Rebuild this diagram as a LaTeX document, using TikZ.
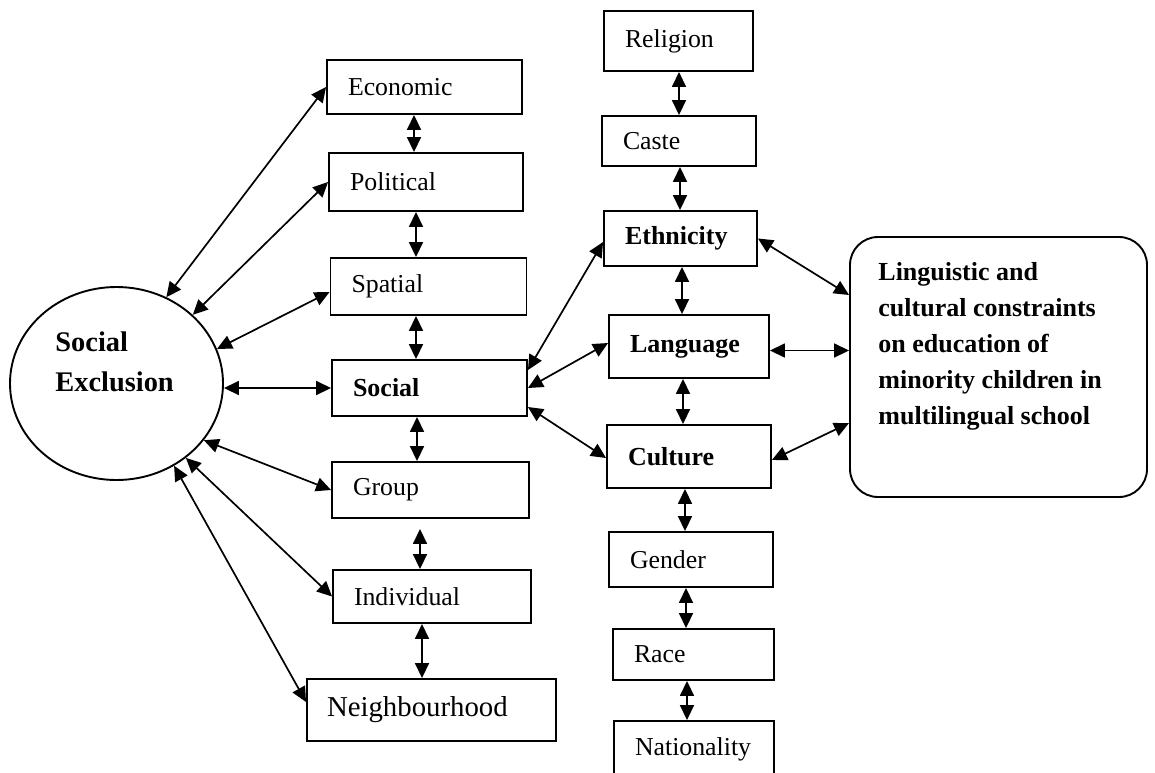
\documentclass[tikz,border=0pt]{standalone}
\usepackage{fontspec}
\setmainfont{Liberation Serif}
\usetikzlibrary{arrows.meta,shapes.geometric}
\tikzset{
  box/.style={draw, line width=0.95pt, inner xsep=10.5pt, inner ysep=0pt, align=left,
    font=\fontsize{12.9}{15}\selectfont},
  bbox/.style={box, font=\fontsize{13}{15}\selectfont\bfseries},
  conn/.style={line width=0.85pt, {Triangle[length=7.5pt,width=7pt]}-{Triangle[length=7.5pt,width=7pt]}},
}
\begin{document}
\begin{tikzpicture}[x=0.5pt,y=-0.5pt]
\useasboundingbox (0,0) rectangle (1155,772);
% Social Exclusion
\node[draw, ellipse, line width=0.95pt, minimum width=106.5pt, minimum height=96.5pt] (se) at (116.5,383.5) {};
\node[anchor=west, align=left, inner sep=0pt, font=\fontsize{14.2}{20}\selectfont\bfseries] (setext) at (55,362) {Social\\Exclusion};
% left column
\node[box, text width=76.5pt, minimum height=27pt] (eco) at (424.5,87) {Economic};
\node[box, text width=76pt, minimum height=29pt] (pol) at (426,182) {Political};
\node[box, text width=77pt, minimum height=28.5pt] (spa) at (428.5,286.5) {Spatial};
\node[bbox, text width=76.5pt, minimum height=28pt] (soc) at (429.5,388) {Social};
\node[box, text width=77.5pt, minimum height=28pt] (grp) at (430.5,490) {Group};
\node[box, text width=78pt, minimum height=26.5pt] (ind) at (432,596.5) {Individual};
\node[box, inner xsep=10pt, text width=104.5pt, minimum height=31pt, font=\fontsize{14.4}{17}\selectfont] (nei) at (431.5,710) {Neighbourhood};
% middle column
\node[box, text width=53.5pt, minimum height=30pt] (rel) at (678.5,41) {Religion};
\node[box, text width=56pt, minimum height=25pt] (cas) at (679,141) {Caste};
\node[bbox, text width=55.5pt, minimum height=27.5pt] (eth) at (680.5,238.5) {Ethnicity};
\node[bbox, text width=59pt, minimum height=31.5pt] (lan) at (689,346.5) {Language};
\node[bbox, text width=61pt, minimum height=31.5pt] (cul) at (689,456.5) {Culture};
\node[box, text width=61pt, minimum height=27.5pt] (gen) at (691,559.5) {Gender};
\node[box, text width=59.5pt, minimum height=25.5pt] (rac) at (693.5,654.5) {Race};
\node[box, text width=59pt, minimum height=28pt] (nat) at (694,749) {Nationality};
% right box
\node[draw, line width=0.95pt, rounded corners=14pt, minimum width=148.5pt, minimum height=130pt] (lc) at (998.5,367) {};
\node[anchor=west, align=left, inner sep=0pt, font=\fontsize{13}{18}\selectfont\bfseries] (lctext) at (878,346.5)
  {Linguistic and\\cultural constraints\\on education of\\minority children in\\multilingual school};
% circle connectors
\draw[conn] (se.60) -- (eco.west);
\draw[conn] (se.42) -- (pol.west);
\draw[conn] (se.19) -- ([yshift=-2.75pt]spa.west);
\draw[conn] (se.east |- soc.west) -- (soc.west);
\draw[conn] (se.-33) -- (grp.west);
\draw[conn] (se.-47) -- (ind.west);
\draw[conn] (se.-55) -- ([yshift=4pt]nei.west);
% left vertical
\draw[conn] (414,0 |- eco.south) -- (414,0 |- pol.north);
\draw[conn] (416,0 |- pol.south) -- (416,0 |- spa.north);
\draw[conn] (416,0 |- spa.south) -- (416,0 |- soc.north);
\draw[conn] (417,0 |- soc.south) -- (417,0 |- grp.north);
\draw[conn] (420,0 |- grp.south) ++(0,10) -- (420,0 |- ind.north);
\draw[conn] (422,0 |- ind.south) -- (422,0 |- nei.north);
% middle vertical
\draw[conn] (679,0 |- rel.south) -- (679,0 |- cas.north);
\draw[conn] (680,0 |- cas.south) -- (680,0 |- eth.north);
\draw[conn] (682,0 |- eth.south) -- (682,0 |- lan.north);
\draw[conn] (683,0 |- lan.south) -- (683,0 |- cul.north);
\draw[conn] (685,0 |- cul.south) -- (685,0 |- gen.north);
\draw[conn] (686,0 |- gen.south) -- (686,0 |- rac.north);
\draw[conn] (687,0 |- rac.south) -- (687,0 |- nat.north);
% social to middle
\draw[conn] ([yshift=9pt]soc.east) -- ([yshift=-1.75pt]eth.west);
\draw[conn] (soc.east) -- ([yshift=1.75pt]lan.west);
\draw[conn] ([yshift=-9.5pt]soc.east) -- ([yshift=-0.75pt]cul.west);
% middle to right box
\draw[conn] (eth.east) -- ([yshift=36pt]lc.west);
\draw[conn] ([yshift=-2pt]lan.east) -- ([yshift=-2pt]lc.west |- lan.east);
\draw[conn] ([yshift=-1.75pt]cul.east) -- ([yshift=-28pt]lc.west);
\end{tikzpicture}
\end{document}
